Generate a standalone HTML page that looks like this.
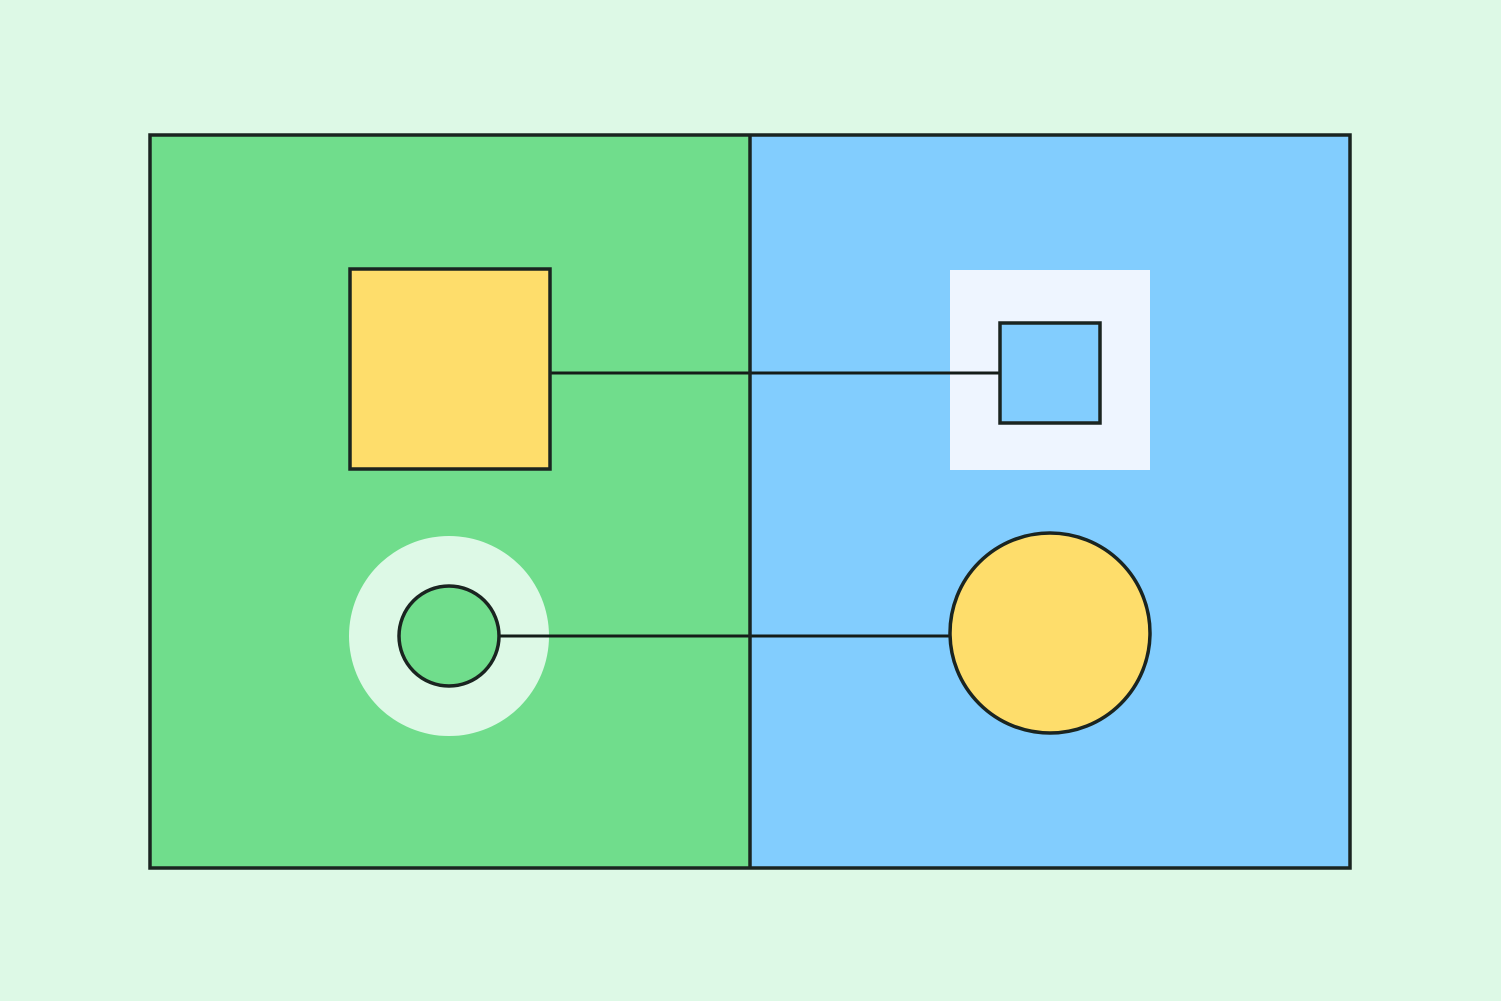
<!DOCTYPE html>
<html>
<head>
<meta charset="utf-8">
<style>
  html, body { margin: 0; padding: 0; background: #ddf9e6; }
  svg { display: block; }
</style>
</head>
<body>
<svg width="1501" height="1001" viewBox="0 0 1501 1001" xmlns="http://www.w3.org/2000/svg">
  <rect x="0" y="0" width="1501" height="1001" fill="#ddf9e6"/>
  <rect x="150" y="135" width="600" height="733" fill="#70dd8c"/>
  <rect x="750" y="135" width="600" height="733" fill="#82cdfe"/>

  <rect x="950" y="270" width="200" height="200" fill="#eef5ff"/>
  <circle cx="449" cy="636" r="100" fill="#ddf9e6"/>

  <line x1="550" y1="373" x2="1000" y2="373" stroke="#141c18" stroke-width="3"/>
  <line x1="500" y1="636" x2="952" y2="636" stroke="#141c18" stroke-width="3"/>

  <rect x="350" y="269" width="200" height="200" fill="#fedd6b" stroke="#1a2420" stroke-width="3.5"/>
  <rect x="1000" y="323" width="100" height="100" fill="#82cdfe" stroke="#1a2420" stroke-width="3.5"/>
  <circle cx="449" cy="636" r="50" fill="#70dd8c" stroke="#1a2420" stroke-width="3.5"/>
  <circle cx="1050" cy="633" r="100" fill="#fedd6b" stroke="#1a2420" stroke-width="3.5"/>

  <line x1="750" y1="135" x2="750" y2="868" stroke="#1a2420" stroke-width="3.5"/>
  <rect x="150" y="135" width="1200" height="733" fill="none" stroke="#1a2420" stroke-width="3.5"/>
</svg>
</body>
</html>
